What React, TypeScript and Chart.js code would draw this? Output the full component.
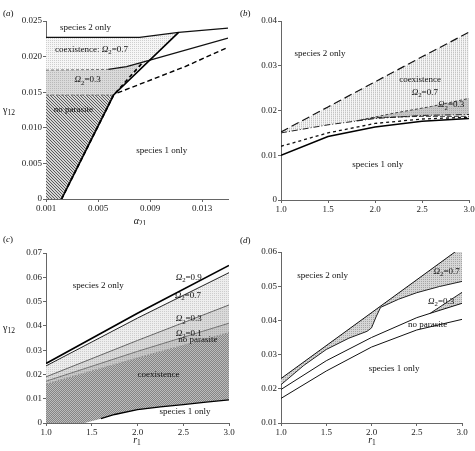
import React, { useEffect, useRef } from 'react';
import { Chart, registerables } from 'chart.js';
Chart.register(...registerables);

type P = { x: number; y: number };
const pts = (xs: number[], ys: number[]): P[] => xs.map((x, i) => ({ x, y: ys[i] }));

// ---------- Panel (a) ----------
const A_X_TICKS = [0.001, 0.005, 0.009, 0.013];
const A_X_LABELS = ['0.001', '0.005', '0.009', '0.013'];
const A_Y_TICKS = [0, 0.005, 0.01, 0.015, 0.02, 0.025];
const A_Y_LABELS = ['0', '0.005', '0.010', '0.015', '0.020', '0.025'];
const A_TOP_X = [0.001, 0.0082, 0.0112, 0.015];
const A_TOP_Y = [0.0227, 0.0227, 0.0234, 0.024];
const A_STEEP_X = [0.0022, 0.0062, 0.0112];
const A_STEEP_Y = [0, 0.0146, 0.0234];
const A_STEEPD_X = [0.0022, 0.0062, 0.0084];
const A_STEEPD_Y = [0, 0.0146, 0.0191];
const A_O3F_X = [0.001, 0.0058];
const A_O3F_Y = [0.0181, 0.0182];
const A_O3_X = [0.0058, 0.0072, 0.009, 0.015];
const A_O3_Y = [0.0182, 0.0186, 0.0195, 0.0226];
const A_NPF_X = [0.001, 0.0062];
const A_NPF_Y = [0.0146, 0.0146];
const A_NP_X = [0.0065, 0.0117, 0.015];
const A_NP_Y = [0.0149, 0.0186, 0.0213];

// ---------- Panel (b) ----------
const B_X_TICKS = [1, 1.5, 2, 2.5, 3];
const B_X_LABELS = ['1.0', '1.5', '2.0', '2.5', '3.0'];
const B_Y_TICKS = [0, 0.01, 0.02, 0.03, 0.04];
const B_Y_LABELS = ['0', '0.01', '0.02', '0.03', '0.04'];
const B_X = [1, 1.5, 2, 2.5, 3];
const B_TOP_Y = [0.0152, 0.0208, 0.0264, 0.032, 0.0375];
const B_O7_Y = [0.015, 0.0168, 0.0182, 0.0189, 0.0191];
const B_O3_X = [1.85, 2.2, 2.6, 3.0];
const B_O3_Y = [0.0179, 0.0194, 0.0209, 0.0227];
const B_D2_X = [1.8, 2.0, 2.5, 3.0];
const B_D2_Y = [0.0177, 0.0184, 0.0187, 0.0187];
const B_SHORT_Y = [0.012, 0.015, 0.0171, 0.0181, 0.0185];
const B_SOLID_Y = [0.01, 0.0142, 0.0163, 0.0176, 0.0182];

// ---------- Panel (c) ----------
const C_X_TICKS = [1, 1.5, 2, 2.5, 3];
const C_X_LABELS = ['1.0', '1.5', '2.0', '2.5', '3.0'];
const C_Y_TICKS = [0, 0.01, 0.02, 0.03, 0.04, 0.05, 0.06, 0.07];
const C_Y_LABELS = ['0', '0.01', '0.02', '0.03', '0.04', '0.05', '0.06', '0.07'];
const C_X = [1, 2, 3];
const C_O9_Y = [0.0245, 0.0452, 0.0649];
const C_O7_Y = [0.0235, 0.0432, 0.0619];
const C_O3_Y = [0.019, 0.034, 0.0486];
const C_O1_Y = [0.0172, 0.0295, 0.0411];
const C_NP_Y = [0.016, 0.0268, 0.0372];
const C_S1_X = [1.42, 1.6, 1.75, 2.0, 2.25, 2.5, 2.75, 3.0];
const C_S1_Y = [0, 0.0018, 0.0035, 0.0055, 0.0066, 0.0076, 0.0086, 0.0095];

// ---------- Panel (d) ----------
const D_X_TICKS = [1, 1.5, 2, 2.5, 3];
const D_X_LABELS = ['1.0', '1.5', '2.0', '2.5', '3.0'];
const D_Y_TICKS = [0.01, 0.02, 0.03, 0.04, 0.05, 0.06];
const D_Y_LABELS = ['0.01', '0.02', '0.03', '0.04', '0.05', '0.06'];
const D_TOP_X = [1.0, 3.0];
const D_TOP_Y = [0.023, 0.0615];
const D_O7_X = [1.0, 1.25, 1.5, 1.75, 1.95, 2.0, 2.05, 2.1, 2.3, 2.5, 2.75, 3.0];
const D_O7_Y = [0.0212, 0.0268, 0.0315, 0.0348, 0.0368, 0.0378, 0.041, 0.0438, 0.0462, 0.0481, 0.0499, 0.0514];
const D_O3_X = [1, 1.5, 2, 2.5, 2.7, 3];
const D_O3_Y = [0.0198, 0.0282, 0.035, 0.0408, 0.0425, 0.045];
const D_O3U_X = [2.65, 3.0];
const D_O3U_Y = [0.0421, 0.0482];
const D_NP_X = [1, 1.5, 2, 2.5, 3];
const D_NP_Y = [0.0172, 0.0252, 0.0322, 0.0372, 0.0403];

// in-plot labels (data coordinates)
const A_TEXT = [
  { s: 'species 2 only', x: 0.00404, y: 0.0241 },
  { s: 'coexistence: *Ω*_2=0.7', x: 0.0045, y: 0.021 },
  { s: '*Ω*_2=0.3', x: 0.0042, y: 0.0167 },
  { s: 'no parasite', x: 0.0031, y: 0.0125 },
  { s: 'species 1 only', x: 0.0099, y: 0.0068 },
];
const B_TEXT = [
  { s: 'species 2 only', x: 1.415, y: 0.0326 },
  { s: 'coexistence', x: 2.48, y: 0.0268 },
  { s: '*Ω*_2=0.7', x: 2.53, y: 0.0241 },
  { s: '*Ω*_2=0.3', x: 2.81, y: 0.0212 },
  { s: 'species 1 only', x: 2.03, y: 0.008 },
];
const C_TEXT = [
  { s: 'species 2 only', x: 1.57, y: 0.0565 },
  { s: '*Ω*_2=0.9', x: 2.56, y: 0.0597 },
  { s: '*Ω*_2=0.7', x: 2.55, y: 0.0523 },
  { s: '*Ω*_2=0.3', x: 2.56, y: 0.0428 },
  { s: '*Ω*_2=0.1', x: 2.56, y: 0.0368 },
  { s: 'no parasite', x: 2.66, y: 0.0342 },
  { s: 'coexistence', x: 2.23, y: 0.0198 },
  { s: 'species 1 only', x: 2.52, y: 0.0047 },
];
const D_TEXT = [
  { s: 'species 2 only', x: 1.46, y: 0.053 },
  { s: '*Ω*_2=0.7', x: 2.83, y: 0.0542 },
  { s: '*Ω*_2=0.3', x: 2.77, y: 0.0454 },
  { s: 'no parasite', x: 2.62, y: 0.0387 },
  { s: 'species 1 only', x: 2.25, y: 0.0258 },
];

const SERIF = "'Liberation Serif', 'DejaVu Serif', 'Times New Roman', serif";

type Part = { t: string; sub: boolean; it: boolean };
function parseRich(s: string): Part[] {
  const out: Part[] = [];
  let buf = '';
  let it = false;
  let i = 0;
  const flush = () => {
    if (buf) out.push({ t: buf, sub: false, it });
    buf = '';
  };
  while (i < s.length) {
    const c = s[i];
    if (c === '*') {
      flush();
      it = !it;
      i++;
    } else if (c === '_') {
      flush();
      let sub = '';
      if (s[i + 1] === '{') {
        const j = s.indexOf('}', i);
        sub = s.slice(i + 2, j);
        i = j + 1;
      } else {
        sub = s[i + 1];
        i += 2;
      }
      out.push({ t: sub, sub: true, it: false });
    } else {
      buf += c;
      i++;
    }
  }
  flush();
  return out;
}

function drawRich(ctx: CanvasRenderingContext2D, s: string, x: number, y: number, align: string, size: number) {
  const parts = parseRich(s);
  const fontOf = (p: Part) => `${p.it ? 'italic ' : ''}${p.sub ? size * 0.75 : size}px ${SERIF}`;
  let total = 0;
  const widths = parts.map((p) => {
    ctx.font = fontOf(p);
    const w = ctx.measureText(p.t).width;
    total += w;
    return w;
  });
  let cx = align === 'center' ? x - total / 2 : align === 'right' ? x - total : x;
  ctx.textBaseline = 'middle';
  ctx.textAlign = 'left';
  parts.forEach((p, i) => {
    ctx.font = fontOf(p);
    ctx.fillText(p.t, cx, p.sub ? y + size * 0.3 : y);
    cx += widths[i];
  });
}

function makePattern(w: number, h: number, bg: string, dots: [number, number, string][]) {
  const c = document.createElement('canvas');
  c.width = w;
  c.height = h;
  const g = c.getContext('2d')!;
  g.fillStyle = bg;
  g.fillRect(0, 0, w, h);
  for (const [x, y, col] of dots) {
    g.fillStyle = col;
    g.fillRect(x, y, 1, 1);
  }
  return g.createPattern(c, 'repeat')!;
}

const line = (data: P[], color: string, width: number, dash: number[] = []) => ({
  data,
  borderColor: color,
  borderWidth: width,
  borderDash: dash,
  pointRadius: 0,
  fill: false,
  tension: 0,
});
const region = (data: P[], bg: any) => ({
  data,
  borderColor: 'rgba(0,0,0,0)',
  borderWidth: 1,
  borderDash: [1, 1],
  backgroundColor: bg,
  fill: 'shape',
  pointRadius: 0,
  tension: 0,
});

type Extra = { s: string; px: number; py: number; align: string; size: number };
type Spec = {
  W: number;
  H: number;
  area: { left: number; top: number; right: number; bottom: number };
  xMin: number;
  xMax: number;
  yMin: number;
  yMax: number;
  xTicks: number[];
  xLabels: string[];
  yTicks: number[];
  yLabels: string[];
  datasets: any[];
  texts: { s: string; x: number; y: number }[];
  extras: Extra[];
};

const BOXES = [
  { l: 0, t: 0, w: 237, h: 225 },
  { l: 237, t: 0, w: 238, h: 225 },
  { l: 0, t: 225, w: 237, h: 226 },
  { l: 237, t: 225, w: 238, h: 226 },
];

function makeChart(canvas: HTMLCanvasElement, spec: Spec, id: string) {
  const { W, H, area } = spec;
  const font = { family: SERIF, size: 9 };
  const axisColor = '#666';
  const textPlugin = {
    id,
    afterDraw(chart: any) {
      const ctx = chart.ctx as CanvasRenderingContext2D;
      const xs = chart.scales.x;
      const ys = chart.scales.y;
      ctx.save();
      ctx.fillStyle = '#111';
      for (const t of spec.texts) {
        drawRich(ctx, t.s, xs.getPixelForValue(t.x), ys.getPixelForValue(t.y), 'center', 9);
      }
      for (const e of spec.extras) drawRich(ctx, e.s, e.px, e.py, e.align, e.size);
      ctx.restore();
    },
  };
  return new Chart(canvas, {
    type: 'line',
    data: { datasets: spec.datasets },
    options: {
      responsive: false,
      maintainAspectRatio: false,
      animation: false,
      devicePixelRatio: 1,
      layout: {
        autoPadding: false,
        padding: { left: 0, top: area.top, right: W - area.right, bottom: 0 },
      },
      plugins: { legend: { display: false }, tooltip: { enabled: false } },
      scales: {
        x: {
          type: 'linear',
          min: spec.xMin,
          max: spec.xMax,
          afterBuildTicks: (s: any) => {
            s.ticks = spec.xTicks.map((v) => ({ value: v }));
          },
          afterFit: (s: any) => {
            s.height = H - area.bottom;
            s.paddingLeft = 0;
            s.paddingRight = 0;
          },
          ticks: {
            callback: (_v: any, i: number) => spec.xLabels[i],
            font,
            color: '#222',
            padding: 1,
            maxRotation: 0,
            autoSkip: false,
          },
          grid: { drawOnChartArea: false, tickLength: 3, color: axisColor },
          border: { color: axisColor },
        },
        y: {
          type: 'linear',
          min: spec.yMin,
          max: spec.yMax,
          afterBuildTicks: (s: any) => {
            s.ticks = spec.yTicks.map((v) => ({ value: v }));
          },
          afterFit: (s: any) => {
            s.width = area.left;
            s.paddingTop = 0;
            s.paddingBottom = 0;
          },
          ticks: {
            callback: (_v: any, i: number) => spec.yLabels[i],
            font,
            color: '#222',
            padding: 1,
            autoSkip: false,
          },
          grid: { drawOnChartArea: false, tickLength: 3, color: axisColor },
          border: { color: axisColor },
        },
      },
    } as any,
    plugins: [textPlugin],
  });
}

function buildSpecs(): Spec[] {
  // patterns
  const hatch = makePattern(3, 3, '#d6d6d6', [
    [0, 0, '#5a5a5a'], [1, 1, '#5a5a5a'], [2, 2, '#5a5a5a'],
  ]);
  const stipLight = makePattern(2, 2, '#f6f6f6', [[0, 0, '#cfcfcf']]);
  const stipGrey = makePattern(2, 2, '#dadada', [[0, 0, '#b9b9b9']]);
  const vStripe = makePattern(2, 2, '#f6f6f6', [[0, 0, '#c4c4c4'], [0, 1, '#e2e2e2']]);
  const bGrey = makePattern(2, 2, '#c8c8c8', [[0, 0, '#a8a8a8']]);
  const cBand0 = '#fbfbfb';
  const cBand1 = makePattern(2, 2, '#eeeeee', [[0, 0, '#cdcdcd']]);
  const cBand2 = makePattern(2, 2, '#dadada', [[0, 0, '#bcbcbc']]);
  const cBand3 = makePattern(2, 2, '#c8c8c8', [[0, 0, '#ababab']]);
  const cCoex = makePattern(2, 2, '#bcbcbc', [[0, 0, '#858585'], [1, 1, '#858585']]);
  const dGrey = makePattern(2, 2, '#d6d6d6', [[0, 0, '#a6a6a6']]);

  // ---- (a)
  const aTop = pts(A_TOP_X, A_TOP_Y);
  const aSteep = pts(A_STEEP_X, A_STEEP_Y);
  const aSteepD = pts(A_STEEPD_X, A_STEEPD_Y);
  const aO3F = pts(A_O3F_X, A_O3F_Y);
  const aO3 = pts(A_O3_X, A_O3_Y);
  const aNPF = pts(A_NPF_X, A_NPF_Y);
  const aNP = pts(A_NP_X, A_NP_Y);
  const aMeet = aSteepD[aSteepD.length - 1];
  const aO3Left = aO3.filter((p) => p.x < aMeet.x);
  const aRegNP = [{ x: A_NPF_X[0], y: 0 }, aSteep[0], aSteep[1], ...aNPF.slice().reverse()];
  const aRegO3 = [...aNPF, aMeet, ...aO3Left.slice().reverse(), ...aO3F.slice().reverse()];
  const aRegCo = [
    ...aTop.slice(0, 3),
    aSteep[1],
    aMeet,
    ...aO3Left.slice().reverse(),
    ...aO3F.slice().reverse(),
  ];

  // ---- (b)
  const bTop = pts(B_X, B_TOP_Y);
  const bO7 = pts(B_X, B_O7_Y);
  const bO3 = pts(B_O3_X, B_O3_Y);
  const bD2 = pts(B_D2_X, B_D2_Y);
  const bShort = pts(B_X, B_SHORT_Y);
  const bSolid = pts(B_X, B_SOLID_Y);
  const bRegCo = [...bTop, ...bO7.slice().reverse()];
  const bRegO3 = [...bO3, ...bO7.filter((p) => p.x > B_O3_X[0]).reverse()];

  // ---- (c)
  const cO9 = pts(C_X, C_O9_Y);
  const cO7 = pts(C_X, C_O7_Y);
  const cO3 = pts(C_X, C_O3_Y);
  const cO1 = pts(C_X, C_O1_Y);
  const cNP = pts(C_X, C_NP_Y);
  const cS1 = pts(C_S1_X, C_S1_Y);
  const band = (u: P[], l: P[]) => [...u, ...l.slice().reverse()];
  const cRegCo = [...cNP, ...cS1.slice().reverse(), { x: C_X[0], y: 0 }];

  // ---- (d)
  const dTop = pts(D_TOP_X, D_TOP_Y);
  const dO7 = pts(D_O7_X, D_O7_Y);
  const dO3 = pts(D_O3_X, D_O3_Y);
  const dO3U = pts(D_O3U_X, D_O3U_Y);
  const dNP = pts(D_NP_X, D_NP_Y);
  const dRegO7 = [...dTop, ...dO7.slice().reverse()];
  const dRegO3 = [...dO3U, ...dO3.filter((p) => p.x >= D_O3U_X[0]).reverse()];

  return [
    {
      W: 237, H: 225, area: { left: 46, top: 21, right: 228, bottom: 199 },
      xMin: 0.001, xMax: 0.015, yMin: 0, yMax: 0.025,
      xTicks: A_X_TICKS, xLabels: A_X_LABELS, yTicks: A_Y_TICKS, yLabels: A_Y_LABELS,
      datasets: [
        line(aSteep, '#000', 1.6),
        line(aSteepD, '#000', 1.6, [4, 3]),
        line(aNP, '#000', 1.4, [5, 3]),
        line(aO3, '#111', 1.3),
        line(aTop, '#111', 1.3),
        line(aO3F, '#777', 1, [3, 2]),
        line(aNPF, '#777', 1, [3, 2]),
        region(aRegNP, hatch),
        region(aRegO3, stipGrey),
        region(aRegCo, stipLight),
      ],
      texts: A_TEXT,
      extras: [
        { s: '(*a*)', px: 3, py: 14, align: 'left', size: 9 },
        { s: 'γ_{12}', px: 3, py: 110, align: 'left', size: 10 },
        { s: '*α*_{21}', px: 140, py: 221, align: 'center', size: 10 },
      ],
    },
    {
      W: 238, H: 225, area: { left: 44, top: 21, right: 232, bottom: 200 },
      xMin: 1, xMax: 3, yMin: 0, yMax: 0.04,
      xTicks: B_X_TICKS, xLabels: B_X_LABELS, yTicks: B_Y_TICKS, yLabels: B_Y_LABELS,
      datasets: [
        line(bSolid, '#000', 1.6),
        line(bShort, '#111', 1.3, [3, 3]),
        line(bTop, '#111', 1.2, [8, 4]),
        line(bO7, '#222', 1, [6, 2, 1, 2]),
        line(bD2, '#333', 1, [5, 2]),
        line(bO3, '#444', 1, [3, 2]),
        region(bRegO3, bGrey),
        region(bRegCo, vStripe),
      ],
      texts: B_TEXT,
      extras: [{ s: '(*b*)', px: 3, py: 14, align: 'left', size: 9 }],
    },
    {
      W: 237, H: 226, area: { left: 46, top: 28, right: 229, bottom: 198 },
      xMin: 1, xMax: 3, yMin: 0, yMax: 0.07,
      xTicks: C_X_TICKS, xLabels: C_X_LABELS, yTicks: C_Y_TICKS, yLabels: C_Y_LABELS,
      datasets: [
        line(cO9, '#000', 1.7),
        line(cO7, '#222', 1),
        line(cO3, '#555', 0.9),
        line(cO1, '#666', 0.9),
        line(cNP, '#888', 0.9, [2, 1]),
        line(cS1.filter((p) => p.x >= 1.6), '#000', 1.3),
        region(band(cO9, cO7), cBand0),
        region(band(cO7, cO3), cBand1),
        region(band(cO3, cO1), cBand2),
        region(band(cO1, cNP), cBand3),
        region(cRegCo, cCoex),
      ],
      texts: C_TEXT,
      extras: [
        { s: '(*c*)', px: 3, py: 15, align: 'left', size: 9 },
        { s: 'γ_{12}', px: 3, py: 103, align: 'left', size: 10 },
        { s: '*r*_1', px: 137, py: 215, align: 'center', size: 10 },
      ],
    },
    {
      W: 238, H: 226, area: { left: 44, top: 27, right: 225, bottom: 198 },
      xMin: 1, xMax: 3, yMin: 0.01, yMax: 0.06,
      xTicks: D_X_TICKS, xLabels: D_X_LABELS, yTicks: D_Y_TICKS, yLabels: D_Y_LABELS,
      datasets: [
        line(dTop, '#111', 1),
        line(dO7, '#222', 1),
        line(dO3, '#111', 1),
        line(dO3U, '#222', 1),
        line(dNP, '#111', 1),
        region(dRegO3, dGrey),
        region(dRegO7, dGrey),
      ],
      texts: D_TEXT,
      extras: [
        { s: '(*d*)', px: 3, py: 16, align: 'left', size: 9 },
        { s: '*r*_1', px: 135, py: 215, align: 'center', size: 10 },
      ],
    },
  ];
}

export default function App() {
  const r0 = useRef<HTMLCanvasElement>(null);
  const r1 = useRef<HTMLCanvasElement>(null);
  const r2 = useRef<HTMLCanvasElement>(null);
  const r3 = useRef<HTMLCanvasElement>(null);
  const refs = [r0, r1, r2, r3];
  useEffect(() => {
    const specs = buildSpecs();
    const charts = specs.map((s, i) => makeChart(refs[i].current!, s, 'txt' + i));
    return () => charts.forEach((c) => c.destroy());
  }, []);
  return (
    <div style={{ position: 'absolute', left: 0, top: 0, width: 475, height: 451, background: '#fff' }}>
      {BOXES.map((b, i) => (
        <canvas
          key={i}
          ref={refs[i]}
          width={b.w}
          height={b.h}
          style={{ position: 'absolute', left: b.l, top: b.t, width: b.w, height: b.h }}
        />
      ))}
    </div>
  );
}
